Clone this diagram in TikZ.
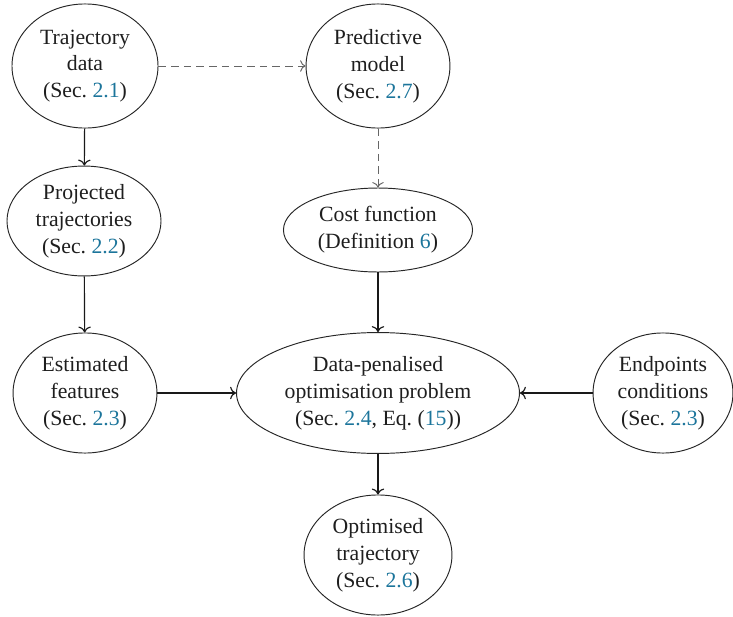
\documentclass[tikz,border=0pt]{standalone}
\usepackage{fontspec}
\setmainfont{Liberation Serif}
\usetikzlibrary{shapes.geometric,arrows.meta}
\definecolor{linkc}{RGB}{28,117,155}
\definecolor{txtc}{RGB}{30,30,30}
\newcommand{\lk}[1]{\textcolor{linkc}{#1}}
\begin{document}
\begin{tikzpicture}[x=0.4739pt,y=-0.4739pt,
  proc/.style={ellipse,draw=black!85,line width=0.45pt,inner sep=0pt,align=center,text=txtc,font=\fontsize{10.3pt}{12.7pt}\selectfont},
  solidarrow/.style={->,line width=0.55pt,draw=black!90},
  dasharrow/.style={->,dash pattern=on 3.6pt off 2.4pt,line width=0.45pt,draw=black!60}]
\useasboundingbox (0,0) rectangle (733,617);
\node[proc,minimum width=69.2pt,minimum height=58.8pt] (traj) at (85,66) {Trajectory\\data\\(Sec.~\lk{2.1})};
\node[proc,minimum width=68.2pt,minimum height=58.8pt] (pred) at (378,66) {Predictive\\model\\(Sec.~\lk{2.7})};
\node[proc,minimum width=73pt,minimum height=52.1pt] (proj) at (84,221) {Projected\\trajectories\\(Sec.~\lk{2.2})};
\node[proc,minimum width=89.6pt,minimum height=39.8pt] (cost) at (378,230) {Cost function\\(Definition~\lk{6})};
\node[proc,minimum width=68.2pt,minimum height=56.9pt] (est) at (85,393) {Estimated\\features\\(Sec.~\lk{2.3})};
\node[proc,minimum width=134.1pt,minimum height=57.3pt] (data) at (378,393) {Data-penalised\\optimisation problem\\(Sec.~\lk{2.4}, Eq.~(\lk{15}))};
\node[proc,minimum width=66.3pt,minimum height=56.9pt] (endp) at (663,393) {Endpoints\\conditions\\(Sec.~\lk{2.3})};
\node[proc,minimum width=70.1pt,minimum height=56.9pt] (opt) at (378,555) {Optimised\\trajectory\\(Sec.~\lk{2.6})};
\draw[dasharrow] (traj) -- (pred);
\draw[dasharrow] (pred) -- (cost);
\draw[solidarrow] (traj) -- (proj);
\draw[solidarrow] (proj) -- (est);
\draw[solidarrow] (est) -- (data);
\draw[solidarrow] (cost) -- (data);
\draw[solidarrow] (endp) -- (data);
\draw[solidarrow] (data) -- (opt);
\end{tikzpicture}
\end{document}
